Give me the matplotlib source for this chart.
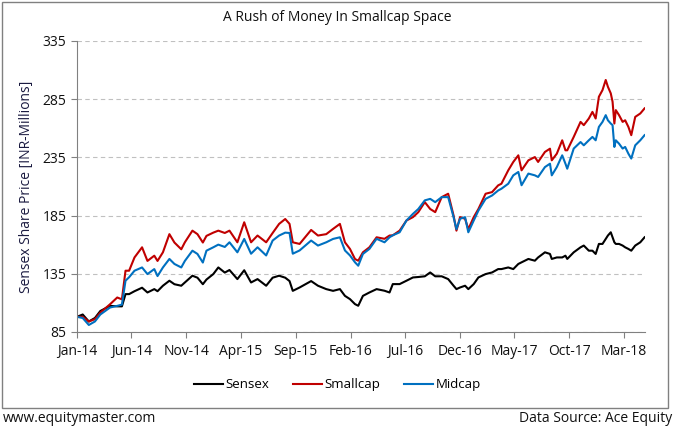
# A Rush of Money In Smallcap Space - line chart

import numpy as np
import pandas as pd
import matplotlib
matplotlib.use('Agg')
import matplotlib.pyplot as plt
import matplotlib.dates as mdates
from matplotlib.patches import Rectangle

plt.rcParams['font.family'] = ['Open Sans', 'DejaVu Sans']

# Data (indexed values)
dates = [
    '2014-01-01', '2014-01-17', '2014-02-03', '2014-02-20', '2014-03-07', '2014-04-03',
    '2014-04-23', '2014-05-06', '2014-05-16', '2014-05-26', '2014-06-10', '2014-07-01',
    '2014-07-16', '2014-08-04', '2014-08-13', '2014-08-28', '2014-09-15', '2014-09-29',
    '2014-10-18', '2014-10-28', '2014-11-18', '2014-12-02', '2014-12-17', '2014-12-27',
    '2015-01-15', '2015-01-29', '2015-02-16', '2015-03-01', '2015-03-23', '2015-04-11',
    '2015-04-30', '2015-05-18', '2015-06-11', '2015-06-29', '2015-07-17', '2015-08-03',
    '2015-08-15', '2015-08-24', '2015-09-12', '2015-10-14', '2015-11-02', '2015-11-25',
    '2015-12-14', '2016-01-02', '2016-01-16', '2016-01-30', '2016-02-13', '2016-02-22',
    '2016-03-06', '2016-03-24', '2016-04-13', '2016-05-05', '2016-05-19', '2016-05-28',
    '2016-06-16', '2016-07-05', '2016-07-23', '2016-08-07', '2016-08-25', '2016-09-09',
    '2016-09-23', '2016-10-11', '2016-10-29', '2016-11-13', '2016-11-21', '2016-12-01',
    '2016-12-15', '2016-12-24', '2017-01-08', '2017-01-21', '2017-02-10', '2017-02-28',
    '2017-03-17', '2017-03-26', '2017-04-14', '2017-04-28', '2017-05-12', '2017-05-21',
    '2017-06-09', '2017-06-27', '2017-07-06', '2017-07-25', '2017-08-08', '2017-08-13',
    '2017-08-27', '2017-09-11', '2017-09-20', '2017-09-25', '2017-10-13', '2017-11-01',
    '2017-11-10', '2017-11-24', '2017-12-04', '2017-12-13', '2017-12-22', '2018-01-01',
    '2018-01-10', '2018-01-16', '2018-01-24', '2018-01-29', '2018-02-03', '2018-02-07',
    '2018-02-16', '2018-02-26', '2018-03-05', '2018-03-14', '2018-03-22', '2018-04-02',
    '2018-04-16', '2018-04-28',
]

sensex = [
    98, 100, 94, 97, 103, 107.4,
    107, 107, 117.5, 117.5, 120, 123,
    118.9, 121.8, 120, 124.7, 129, 126,
    124.7, 127.5, 133.3, 131.6, 126, 130,
    134.7, 140.4, 136, 138.2, 130.4, 138,
    127.5, 130.4, 124.7, 131.6, 133.3, 131.6,
    128.7, 120.3, 123.2, 128.7, 124.7, 121.8,
    120.3, 121.8, 116, 113.2, 108.9, 107.5,
    116, 118.9, 121.8, 120.4, 118.9, 126.1,
    126.1, 129, 131.8, 132.2, 132.8, 136.1,
    132.8, 132.8, 130.4, 124.7, 121.8, 123.2,
    124.7, 121.8, 126.1, 131.8, 134.7, 136.1,
    139, 139, 140.4, 139, 143.4, 144.8,
    147.7, 146.2, 149, 153.4, 152, 147.7,
    149, 149, 150.5, 147.7, 153.4, 157.7,
    159.2, 154.8, 154.8, 152, 160.6, 160.6,
    164.9, 167.8, 170.6, 166.3, 162, 160.6,
    160.6, 159.2, 157.7, 156.3, 154.8, 159.2,
    162, 166.3,
]

smallcap = [
    98, 98, 94, 96, 101.6, 108.8,
    114.6, 113, 137.6, 137.6, 149, 157.7,
    146, 150.5, 146, 153.4, 169, 161.8,
    156, 162, 172, 169, 161.8, 167.5,
    170.3, 172, 170, 172, 162, 179.2,
    162, 167.8, 162, 170, 177.8, 182,
    177.8, 162, 160.6, 172.6, 167.8, 169,
    173.5, 177.8, 162, 156.3, 147.6, 146.2,
    153.4, 157.7, 166.3, 165, 167.8, 168,
    172, 180.7, 183.6, 187.9, 196.5, 190.6,
    187.9, 200.8, 203.7, 185, 172, 183.6,
    182.2, 173.3, 183.6, 190.6, 203.7, 205.1,
    210.9, 212.3, 223.8, 231, 236.7, 223.8,
    232.4, 235.2, 231, 239.6, 242.4, 232.4,
    238.1, 249.6, 241, 241, 252.5, 265.4,
    262.6, 268.3, 274, 268.3, 287, 292.7,
    301.4, 295.6, 289.9, 282.7, 264, 275.5,
    271.2, 265.4, 266.8, 261.1, 254, 269.7,
    272.6, 277,
]

midcap = [
    98, 97, 91, 94, 100, 106,
    107.4, 108.5, 129, 132, 137.6, 140.4,
    134.7, 139, 133, 140.4, 147.7, 143.4,
    140.4, 146, 154.8, 152, 144.6, 154.8,
    157.7, 160, 158, 162, 153.4, 164.9,
    152.2, 157.7, 150.7, 163.5, 167.8, 170.3,
    170, 152.2, 155, 163.5, 159.2, 162,
    164.9, 166.3, 155, 150.7, 144.8, 141.9,
    152, 156.3, 165, 162, 166.3, 168,
    170.6, 180.7, 186.4, 190.6, 198, 199.3,
    196.5, 200.8, 200.8, 183.6, 173.3, 182.2,
    183.6, 170.6, 180.7, 189.2, 199.3, 202.2,
    206.5, 208, 212.3, 219.5, 222.4, 211,
    221, 219.5, 218.1, 226.6, 229.5, 219.5,
    226.6, 236.7, 229.5, 225.2, 242.5, 248.1,
    245.3, 249.6, 252.5, 249.6, 261.1, 265.4,
    271.2, 266.8, 264, 262.6, 243.9, 249.6,
    246.7, 242.5, 243.9, 238.1, 233.9, 245.3,
    249.6, 254,
]

y_ticks = [85, 135, 185, 235, 285, 335]
x_tick_dates = ['2014-01-01', '2014-06-01', '2014-11-01', '2015-04-01', '2015-09-01', '2016-02-01',
                '2016-07-01', '2016-12-01', '2017-05-01', '2017-10-01', '2018-03-01']

df = pd.DataFrame({'Date': pd.to_datetime(dates), 'Sensex': sensex,
                   'Smallcap': smallcap, 'Midcap': midcap})

fig = plt.figure(figsize=(6.75, 4.3), dpi=100)
ax = fig.add_axes([0.114, 0.228, 0.842, 0.677])

ax.plot(df['Date'], df['Sensex'], color='#000000', linewidth=1.5, label='Sensex')
ax.plot(df['Date'], df['Smallcap'], color='#c00000', linewidth=1.5, label='Smallcap')
ax.plot(df['Date'], df['Midcap'], color='#0070c0', linewidth=1.5, label='Midcap')

# Axes and grid
ax.set_ylim(85, 335)
ax.set_yticks(y_ticks)
ax.set_xlim(pd.Timestamp('2014-01-01'), pd.Timestamp('2018-04-30'))
ax.set_xticks(pd.to_datetime(x_tick_dates))
ax.xaxis.set_major_formatter(mdates.DateFormatter('%b-%y'))
ax.grid(axis='y', color='#c0c0c0', linestyle=(0, (4, 3)), linewidth=0.8)
ax.set_axisbelow(True)

for side in ['top', 'right']:
    ax.spines[side].set_visible(False)
for side in ['left', 'bottom']:
    ax.spines[side].set_color('#808080')
    ax.spines[side].set_linewidth(0.8)
ax.tick_params(axis='both', colors='#808080', labelcolor='#111111', labelsize=10, length=4, width=0.8)
ax.tick_params(axis='x', pad=5)

ax.set_ylabel('Sensex Share Price [INR-Millions]', fontsize=10, color='#1a1a40', labelpad=6)
fig.text(0.5, 0.96, 'A Rush of Money In Smallcap Space', ha='center', va='center', fontsize=10, color='#111111')

ax.legend(loc='center', bbox_to_anchor=(0.5, 0.105), bbox_transform=fig.transFigure, ncol=3,
          frameon=False, fontsize=9.5, handlelength=2.2, handletextpad=0.2, columnspacing=1.8)

# Border and footer
fig.patches.append(Rectangle((0.003, 0.051), 0.986, 0.944, transform=fig.transFigure,
                             fill=False, edgecolor='#808080', linewidth=1))
fig.text(0.004, 0.027, 'www.equitymaster.com', ha='left', va='center', fontsize=10, color='#111111')
fig.text(0.996, 0.027, 'Data Source: Ace Equity', ha='right', va='center', fontsize=10, color='#111111')

fig.savefig('out.png', dpi=100)
